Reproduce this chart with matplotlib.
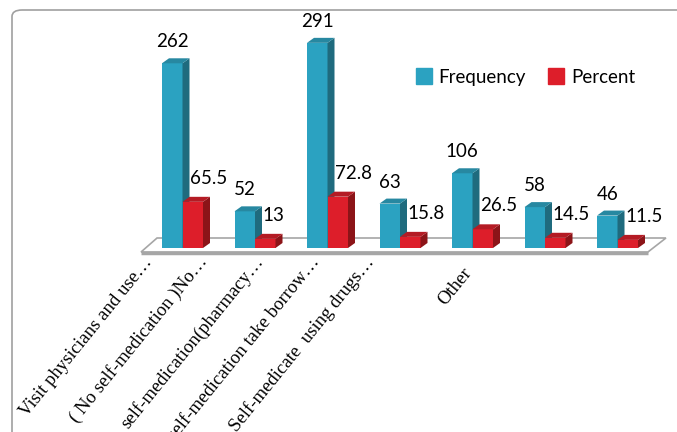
import numpy as np
import matplotlib.pyplot as plt
from matplotlib.patches import Polygon, FancyBboxPatch, Patch
from matplotlib.transforms import ScaledTranslation

# Datos
categorias = ['Visit physicians and use…', '( No self-medication )No…',
              'self-medication(pharmacy…', 'self-medication take borrow…',
              'Self-medicate  using drugs…', '', 'Other']
frecuencia = [262, 52, 291, 63, 106, 58, 46]
porcentaje = [65.5, 13, 72.8, 15.8, 26.5, 14.5, 11.5]

# Colores (frente, lado, arriba)
azul = ('#2ba2c1', '#1f6b7e', '#2788a1')
rojo = ('#dd1e2a', '#8c1418', '#b41b24')

W, H = 677, 432
fig = plt.figure(figsize=(W / 100, H / 100), dpi=100)

# escala en pixeles
x0_px, paso_px = 182.5, 72.5      # centro del primer grupo, separacion
base_px, escala = 248, 0.705      # linea base, px por unidad
ax = fig.add_axes([0, (H - base_px) / H, 1, base_px / H])
ax.set_xlim(-x0_px / paso_px, (W - x0_px) / paso_px)
ax.set_ylim(0, base_px / escala)

w = 20.5 / paso_px
dx = 7 / paso_px
dy = 5 / escala

x = np.arange(len(categorias))

# piso
piso = Polygon([(-0.572, -4 / escala), (6.42, -4 / escala),
                (6.42 + 18 / paso_px, 10 / escala), (-0.572 + 16 / paso_px, 10 / escala)],
               closed=True, facecolor='white', edgecolor='#a6a6a6', lw=1.2,
               clip_on=False, zorder=1)
ax.add_patch(piso)
ax.plot([-0.572, 6.42], [-4.5 / escala, -4.5 / escala], color='#a6a6a6', lw=2.5,
        solid_capstyle='butt', clip_on=False, zorder=1)


def barra3d(xi, v, col, z):
    ax.bar(xi, v, width=w, align='edge', color=col[0], zorder=z, clip_on=False)
    ax.add_patch(Polygon([(xi + w, 0), (xi + w + dx, dy), (xi + w + dx, v + dy), (xi + w, v)],
                         closed=True, facecolor=col[1], edgecolor='none', zorder=z, clip_on=False))
    ax.add_patch(Polygon([(xi, v), (xi + dx, v + dy), (xi + w + dx, v + dy), (xi + w, v)],
                         closed=True, facecolor=col[2], edgecolor='none', zorder=z, clip_on=False))


for i in range(len(categorias)):
    barra3d(x[i] - w, frecuencia[i], azul, 2 + 2 * i)
    barra3d(x[i], porcentaje[i], rojo, 3 + 2 * i)

fuente = 'Lato'
for i in range(len(categorias)):
    ax.annotate(str(frecuencia[i]), (x[i] - w / 2, frecuencia[i]), xytext=(0, 15.5),
                textcoords='offset points', ha='center', va='center',
                fontsize=13.5, family=fuente, color='black', zorder=30)
    ax.annotate('%g' % porcentaje[i], (x[i] + w / 2, porcentaje[i]), xytext=(-2, 17),
                textcoords='offset points', ha='left', va='center',
                fontsize=13.5, family=fuente, color='black', zorder=30)

# etiquetas del eje
ax.set_xticks(x)
ax.set_xticklabels(categorias, rotation=51, ha='right', va='baseline',
                   rotation_mode='anchor', family='Liberation Serif', fontsize=13.5)
ax.tick_params(axis='x', length=0, pad=0)
fin_px = [(153, 262), (208, 262), (264, 262), (320, 262), (375, 262), (430, 262), (472, 273)]
for i, lab in enumerate(ax.get_xticklabels()):
    ox = (fin_px[i][0] - (x0_px + paso_px * i)) / 100
    oy = -(fin_px[i][1] - base_px) / 100
    lab.set_transform(lab.get_transform() + ScaledTranslation(ox, oy, fig.dpi_scale_trans))
for s in ax.spines.values():
    s.set_visible(False)
ax.set_yticks([])
ax.patch.set_visible(False)

# leyenda
h = [Patch(color=azul[0]), Patch(color=rojo[0])]
fig.legend(h, ['Frequency', 'Percent'], loc='center left', ncol=2,
           bbox_to_anchor=(416 / W, 1 - 77 / H), frameon=False, borderpad=0,
           borderaxespad=0, handlelength=0.85, handleheight=0.95, handletextpad=0.35,
           columnspacing=1.2, prop={'family': fuente, 'size': 13.5})

# marco
marco = FancyBboxPatch((12 / W, -0.2), 1.2, 1.2 - 10 / H, transform=fig.transFigure,
                       boxstyle='round,pad=0,rounding_size=0.015', facecolor='none',
                       edgecolor='#a0a0a0', lw=1.2, zorder=0)
fig.patches.append(marco)

fig.savefig('out.png', dpi=100)
